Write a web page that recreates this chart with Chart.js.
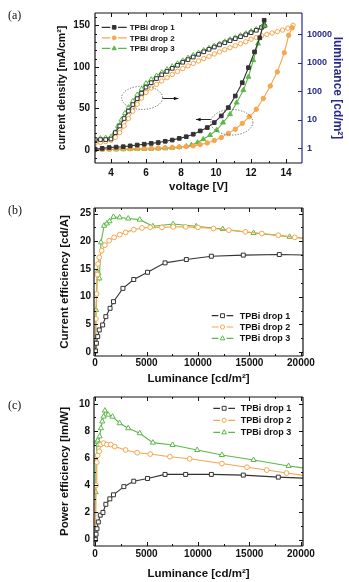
<!DOCTYPE html>
<html>
<head>
<meta charset="utf-8">
<script src="https://cdn.jsdelivr.net/npm/chart.js@4.4.1/dist/chart.umd.min.js"></script>
<style>
  html, body { margin: 0; padding: 0; background: #fff; }
  #page { position: relative; width: 349px; height: 582px; overflow: hidden; }
  .panel { position: absolute; left: 0; }
  .tag { position: absolute; left: 8px; font: 12px "Liberation Serif", "DejaVu Serif", serif; color: #111; }
</style>
</head>
<body>
<div id="page">
  <canvas id="chart-a" class="panel" width="349" height="195" style="top:0"></canvas>
  <canvas id="chart-b" class="panel" width="349" height="195" style="top:195px"></canvas>
  <canvas id="chart-c" class="panel" width="349" height="192" style="top:390px"></canvas>
  <div class="tag" style="top:8px">(a)</div>
  <div class="tag" style="top:203px">(b)</div>
  <div class="tag" style="top:398px">(c)</div>
</div>
<script>
// ── (a) J-V-L ──
const voltTicks = [4, 6, 8, 10, 12, 14];
const densTicks = [0, 50, 100, 150];
const lumTicksLog = [1, 10, 100, 1000, 10000];

// current density, filled markers
const vJ1 = [3.1, 3.5, 3.9, 4.3, 4.7, 5.1, 5.5, 5.9, 6.3, 6.7, 7.1, 7.5, 7.9, 8.3, 8.7, 9.1, 9.5, 9.9, 10.3, 10.7, 11.1, 11.5, 11.85, 12.2, 12.5, 12.75];
const jDrop1 = [1, 2, 3, 3.5, 4, 5, 6, 7, 8, 9, 10.5, 12, 14, 16, 19, 23, 27, 33, 41, 51, 65, 81, 99, 118, 135, 156];
const vJ2 = [3.1, 3.5, 3.9, 4.3, 4.7, 5.1, 5.5, 5.9, 6.3, 6.7, 7.1, 7.5, 7.9, 8.3, 8.7, 9.1, 9.5, 9.9, 10.3, 10.7, 11.1, 11.5, 11.9, 12.3, 12.7, 13.1, 13.5, 13.9, 14.15, 14.35];
const jDrop2 = [0.5, 0.8, 1, 1.2, 1.4, 1.6, 1.8, 2, 2.2, 2.5, 2.8, 3.2, 3.7, 4.3, 5, 6.5, 8.5, 11.5, 15, 20, 25, 32, 40, 49, 62, 77, 94, 117, 138, 147];
const vJ3 = [3.1, 3.5, 3.9, 4.3, 4.7, 5.1, 5.5, 5.9, 6.3, 6.7, 7.1, 7.5, 7.9, 8.3, 8.6, 8.95, 9.27, 9.66, 10.04, 10.4, 10.8, 11.18, 11.56, 11.85, 12.13, 12.4, 12.7];
const jDrop3 = [0.5, 0.6, 0.7, 0.8, 0.9, 1, 1.1, 1.2, 1.4, 1.7, 2, 2.6, 3.4, 4.5, 6, 9, 13, 18, 24, 33, 43, 57, 72, 88, 108, 128, 150];

// luminance, open markers
const vL1 = [3.1, 3.4, 3.7, 4.0, 4.25, 4.5, 4.75, 5.0, 5.25, 5.5, 5.75, 6.0, 6.3, 6.6, 6.9, 7.2, 7.5, 7.8, 8.1, 8.4, 8.7, 9.0, 9.3, 9.6, 9.9, 10.2, 10.5, 10.8, 11.1, 11.4, 11.7, 12.0, 12.3, 12.6, 12.75];
const lDrop1 = [2, 2, 2, 2.1, 3.5, 6, 11, 20, 34, 55, 85, 140, 200, 280, 380, 500, 640, 820, 1050, 1300, 1600, 2000, 2450, 3000, 3600, 4300, 5100, 6000, 7100, 8300, 9700, 11500, 14000, 17500, 20000];
const vL2 = [3.1, 3.4, 3.7, 4.0, 4.25, 4.5, 4.75, 5.0, 5.25, 5.5, 5.75, 6.0, 6.3, 6.6, 6.9, 7.2, 7.5, 7.8, 8.1, 8.4, 8.7, 9.0, 9.3, 9.6, 9.9, 10.2, 10.5, 10.8, 11.1, 11.4, 11.7, 12.0, 12.3, 12.6, 12.9, 13.2, 13.5, 13.8, 14.1, 14.4];
const lDrop2 = [1.5, 1.6, 1.7, 1.9, 2.4, 3.5, 6, 11, 20, 35, 58, 90, 130, 175, 230, 300, 390, 500, 630, 780, 960, 1170, 1420, 1700, 2050, 2450, 2900, 3400, 4000, 4700, 5500, 6800, 7800, 8900, 10000, 11200, 12600, 14300, 16500, 21000];
const vL3 = [3.1, 3.4, 3.7, 4.0, 4.2, 4.4, 4.6, 4.8, 5.0, 5.25, 5.5, 5.75, 6.0, 6.3, 6.6, 6.9, 7.2, 7.5, 7.8, 8.1, 8.4, 8.7, 9.0, 9.3, 9.6, 9.9, 10.2, 10.5, 10.8, 11.1, 11.4, 11.7, 12.0, 12.3, 12.6, 12.8];
const lDrop3 = [2, 2.2, 2.3, 2.5, 3.5, 6, 10, 17, 27, 45, 75, 120, 190, 260, 350, 460, 590, 750, 950, 1200, 1500, 1850, 2250, 2750, 3300, 3950, 4700, 5600, 6600, 7800, 9200, 10800, 12800, 15200, 18000, 20500];

// ── (b) current efficiency ──
const lumTicks = [0, 5000, 10000, 15000, 20000];
const ceTicks = [0, 5, 10, 15, 20, 25];
const lumB1 = [40, 130, 260, 410, 740, 1050, 1460, 1790, 2710, 3760, 5100, 6800, 8870, 11300, 14400, 17900, 21000];
const ceB1 = [0.2, 1.6, 2.8, 4.0, 4.9, 6.4, 7.9, 9.1, 11.5, 13.1, 14.4, 16.1, 16.7, 17.3, 17.5, 17.6, 17.5];
const lumB2 = [20, 80, 150, 220, 290, 410, 640, 960, 1370, 1850, 2400, 2970, 3760, 4560, 5360, 6500, 7600, 8800, 10000, 11500, 13000, 14600, 16200, 17800, 19400, 21000];
const ceB2 = [0.5, 6, 10.5, 14, 15.9, 17.1, 18.3, 19.3, 20.1, 20.7, 21.2, 21.6, 22.1, 22.4, 22.5, 22.5, 22.6, 22.6, 22.5, 22.3, 22.0, 21.7, 21.4, 21.1, 20.7, 20.4];
const lumB3 = [20, 100, 230, 330, 420, 580, 880, 1150, 1400, 1790, 2390, 3220, 4340, 5620, 7590, 9830, 12400, 15400, 18900, 21000];
const ceB3 = [0.5, 7.6, 14.5, 14.2, 13.3, 19.8, 22.8, 23.2, 23.6, 24.4, 24.3, 24.1, 23.9, 22.7, 23.1, 22.7, 22.2, 21.5, 20.8, 20.4];

// ── (c) power efficiency ──
const peTicks = [0, 2, 4, 6, 8, 10];
const lumC1 = [30, 100, 190, 320, 510, 770, 1050, 1435, 1790, 2800, 3760, 5100, 6800, 8800, 11300, 14400, 17800, 21000];
const peC1 = [0, 0.4, 0.8, 1.3, 1.8, 2.0, 2.6, 3.0, 3.3, 3.9, 4.3, 4.5, 4.8, 4.8, 4.8, 4.75, 4.6, 4.5];
const lumC2 = [20, 100, 170, 260, 410, 574, 830, 1150, 1530, 1910, 2970, 4090, 5360, 7270, 9190, 12320, 14760, 16680, 18600, 21000];
const peC2 = [0.3, 4.0, 5.7, 6.2, 6.5, 7.0, 7.1, 7.0, 7.0, 6.85, 6.6, 6.4, 6.3, 6.1, 5.95, 5.6, 5.33, 5.12, 4.9, 4.64];
const lumC3 = [20, 60, 100, 170, 260, 330, 450, 574, 700, 830, 960, 1270, 1700, 2390, 3220, 4340, 5620, 7530, 9920, 12320, 15400, 18800, 21000];
const peC3 = [0.3, 3.5, 5.8, 7.2, 7.3, 7.0, 7.6, 8.2, 8.7, 9.06, 9.5, 9.2, 9.05, 8.57, 8.2, 7.83, 7.14, 6.97, 6.6, 6.23, 5.86, 5.42, 5.2];

const FONT = '"Liberation Sans", Arial, sans-serif';
const INK = "#111";
const NAVY = "#262a8c";
const COL = { d1: "#333333", d2: "#f6a64c", d3: "#5cb848" };

Chart.defaults.color = INK;
Chart.defaults.font.family = FONT;

function pts(xs, ys) {
  return xs.map(function (x, i) { return { x: x, y: ys[i] }; });
}

function series(label, xs, ys, color, style, filled, axis, r) {
  return {
    label: label,
    data: pts(xs, ys),
    yAxisID: axis || "y",
    showLine: true,
    borderColor: color,
    borderWidth: 1.1,
    tension: 0,
    pointStyle: style,
    pointRadius: r || 2.4,
    pointBorderWidth: 1,
    pointBorderColor: color,
    pointBackgroundColor: filled ? color : "#fff",
    backgroundColor: filled ? color : "#fff",
  };
}

// force axis box sizes so the plot frames land where the figure has them
function fixSize(px) {
  return function (s) {
    if (s.isHorizontal()) s.height = px; else s.width = px;
    s.paddingTop = s.paddingBottom = s.paddingLeft = s.paddingRight = 0;
  };
}
function useTicks(values) {
  return function (s) { s.ticks = values.map(function (v) { return { value: v }; }); };
}
function bold(size) { return { family: FONT, size: size, weight: "bold" }; }

function marker(ctx, style, x, y, r, stroke, fill) {
  ctx.beginPath();
  if (style === "rect") {
    const h = r * 0.75;
    ctx.rect(x - h, y - h, 2 * h, 2 * h);
  } else if (style === "triangle") {
    ctx.moveTo(x, y - r);
    ctx.lineTo(x + r * 0.9, y + r * 0.6);
    ctx.lineTo(x - r * 0.9, y + r * 0.6);
    ctx.closePath();
  } else {
    ctx.arc(x, y, r * 0.8, 0, Math.PI * 2);
  }
  ctx.fillStyle = fill;
  ctx.fill();
  ctx.lineWidth = 1;
  ctx.strokeStyle = stroke;
  ctx.stroke();
}

// ── Plugins ──
const frame = {
  id: "frame",
  afterDatasetsDraw(chart, args, o) {
    const ctx = chart.ctx, a = chart.chartArea;
    ctx.save();
    ctx.lineWidth = 1;
    (o.axes || []).forEach(function (ax) {
      const s = chart.scales[ax.id];
      const majors = s.ticks.map(function (t) { return t.value; });
      const marks = majors.map(function (v) { return { v: v, len: 4 }; });
      if (ax.minor) {
        for (let v = Math.ceil(s.min / ax.minor) * ax.minor; v <= s.max; v += ax.minor) {
          if (!majors.some(function (m) { return Math.abs(m - v) < 1e-6; })) marks.push({ v: v, len: 2 });
        }
      }
      ctx.strokeStyle = ax.color || INK;
      marks.forEach(function (t) {
        const p = Math.round(s.getPixelForValue(t.v)) + 0.5;
        ax.sides.forEach(function (side) {
          ctx.beginPath();
          if (side === "bottom") { ctx.moveTo(p, a.bottom); ctx.lineTo(p, a.bottom - t.len); }
          if (side === "top") { ctx.moveTo(p, a.top); ctx.lineTo(p, a.top + t.len); }
          if (side === "left") { ctx.moveTo(a.left, p); ctx.lineTo(a.left + t.len, p); }
          if (side === "right") { ctx.moveTo(a.right, p); ctx.lineTo(a.right - t.len, p); }
          ctx.stroke();
        });
      });
    });
    // box
    const c = o.box || {};
    ctx.lineWidth = 1.2;
    [["top", a.left, a.top, a.right, a.top], ["bottom", a.left, a.bottom, a.right, a.bottom],
     ["left", a.left, a.top, a.left, a.bottom], ["right", a.right, a.top, a.right, a.bottom]].forEach(function (e) {
      ctx.strokeStyle = c[e[0]] || INK;
      ctx.beginPath(); ctx.moveTo(e[1], e[2]); ctx.lineTo(e[3], e[4]); ctx.stroke();
    });
    ctx.restore();
  },
};

const lineLegend = {
  id: "lineLegend",
  afterDraw(chart, args, o) {
    if (!o.rows) return;
    const ctx = chart.ctx, a = chart.chartArea;
    ctx.save();
    ctx.font = "bold " + o.size + "px " + FONT;
    ctx.textBaseline = "middle";
    o.rows.forEach(function (idx, i) {
      const ds = chart.data.datasets[idx];
      const y = a.top + o.y + i * o.gap;
      const x0 = a.left + o.x, x1 = x0 + o.len, xm = (x0 + x1) / 2;
      ctx.strokeStyle = ds.borderColor;
      ctx.lineWidth = 1.2;
      ctx.beginPath();
      ctx.moveTo(x0, y); ctx.lineTo(xm - o.r - 1.5, y);
      ctx.moveTo(xm + o.r + 1.5, y); ctx.lineTo(x1, y);
      ctx.stroke();
      marker(ctx, ds.pointStyle, xm, y, o.r, ds.borderColor, ds.pointBackgroundColor);
      ctx.fillStyle = INK;
      ctx.fillText(ds.label, x1 + o.textGap, y + 0.5);
    });
    ctx.restore();
  },
};

const callouts = {
  id: "callouts",
  afterDatasetsDraw(chart, args, o) {
    if (!o.ellipses) return;
    const ctx = chart.ctx, xs = chart.scales.x, ys = chart.scales.y;
    ctx.save();
    ctx.strokeStyle = "#555";
    ctx.lineWidth = 0.9;
    ctx.setLineDash([1.2, 1.6]);
    o.ellipses.forEach(function (e) {
      const cx = xs.getPixelForValue(e.x), cy = ys.getPixelForValue(e.y);
      const rx = Math.abs(xs.getPixelForValue(e.x + e.dx) - cx);
      const ry = Math.abs(ys.getPixelForValue(e.y + e.dy) - cy);
      ctx.beginPath();
      ctx.ellipse(cx, cy, rx, ry, 0, 0, Math.PI * 2);
      ctx.stroke();
    });
    ctx.setLineDash([]);
    ctx.strokeStyle = INK;
    ctx.fillStyle = INK;
    o.arrows.forEach(function (ar) {
      const x0 = xs.getPixelForValue(ar.from), x1 = xs.getPixelForValue(ar.to);
      const y = Math.round(ys.getPixelForValue(ar.y)) + 0.5;
      const d = Math.sign(x1 - x0);
      ctx.beginPath(); ctx.moveTo(x0, y); ctx.lineTo(x1, y); ctx.stroke();
      ctx.beginPath();
      ctx.moveTo(x1, y); ctx.lineTo(x1 - d * 4.5, y - 1.8); ctx.lineTo(x1 - d * 4.5, y + 1.8);
      ctx.closePath(); ctx.fill();
    });
    ctx.restore();
  },
};

const plugins = [frame, lineLegend, callouts];

function axisX(min, max, ticks, size, title, tickPad, titlePad) {
  return {
    type: "linear", min: min, max: max,
    afterFit: fixSize(size), afterBuildTicks: useTicks(ticks),
    grid: { display: false, drawTicks: false }, border: { display: false },
    ticks: { padding: tickPad, color: INK, font: bold(10), maxRotation: 0, callback: function (v) { return String(v); } },
    title: { display: true, text: title, color: INK, font: bold(11.5), padding: { top: 0, bottom: titlePad } },
  };
}
function axisY(min, max, ticks, size, title, titleSize, tickPad, titlePad) {
  return {
    type: "linear", position: "left", min: min, max: max,
    afterFit: fixSize(size), afterBuildTicks: useTicks(ticks),
    grid: { display: false, drawTicks: false }, border: { display: false },
    ticks: { padding: tickPad, color: INK, font: bold(10), callback: function (v) { return String(v); } },
    title: { display: true, text: title, color: INK, font: bold(titleSize), padding: { top: titlePad, bottom: 0 } },
  };
}

// ── Chart (a) ──
new Chart(document.getElementById("chart-a"), {
  type: "scatter",
  data: {
    datasets: [
      series("TPBi drop 1", vJ1, jDrop1, COL.d1, "rect", true, "y", 2.6),
      series("TPBi drop 2", vJ2, jDrop2, COL.d2, "circle", true, "y", 2.2),
      series("TPBi drop 3", vJ3, jDrop3, COL.d3, "triangle", true, "y", 2.8),
      series("drop 1 L", vL1, lDrop1, COL.d1, "rect", false, "y2", 2.6),
      series("drop 2 L", vL2, lDrop2, COL.d2, "circle", false, "y2", 2.2),
      series("drop 3 L", vL3, lDrop3, COL.d3, "triangle", false, "y2", 2.8),
    ],
  },
  options: {
    responsive: false, animation: false, devicePixelRatio: 1,
    layout: { padding: { top: 13, left: 0, right: 0, bottom: 0 } },
    scales: {
      x: axisX(3.09, 14.91, voltTicks, 32, "voltage [V]", 4, 1),
      y: axisY(-15.6, 164.8, densTicks, 95, "current density [mA/cm²]", 10.5, 5, 56),
      y2: {
        type: "logarithmic", position: "right", min: 0.325, max: 56700,
        afterFit: fixSize(47), afterBuildTicks: useTicks(lumTicksLog),
        grid: { display: false, drawTicks: false }, border: { display: false },
        ticks: { padding: 5, color: NAVY, font: bold(9), callback: function (v) { return String(v); } },
        title: { display: true, text: "luminance [cd/m²]", color: NAVY, font: bold(12), padding: { top: 4, bottom: 0 } },
      },
    },
    plugins: {
      legend: { display: false },
      tooltip: { enabled: false },
      frame: {
        axes: [
          { id: "x", sides: ["bottom", "top"], minor: 1 },
          { id: "y", sides: ["left"], minor: 10 },
          { id: "y2", sides: ["right"], color: NAVY },
        ],
        box: { right: NAVY },
      },
      lineLegend: { rows: [0, 1, 2], x: 6.7, y: 14.3, gap: 10.5, len: 25, r: 2.4, size: 8, textGap: 3 },
      callouts: {
        ellipses: [{ x: 5.78, y: 62.8, dx: 1.17, dy: 14 }, { x: 10.9, y: 33.4, dx: 1.2, dy: 15.4 }],
        arrows: [{ from: 6.95, to: 7.85, y: 63 }, { from: 9.7, to: 8.86, y: 36.8 }],
      },
    },
  },
  plugins: plugins,
});

// ── Chart (b) ──
new Chart(document.getElementById("chart-b"), {
  type: "scatter",
  data: {
    datasets: [
      series("TPBi drop 1", lumB1, ceB1, COL.d1, "rect", false, "y", 2.8),
      series("TPBi drop 2", lumB2, ceB2, COL.d2, "circle", false, "y", 2.4),
      series("TPBi drop 3", lumB3, ceB3, COL.d3, "triangle", false, "y", 3),
    ],
  },
  options: {
    responsive: false, animation: false, devicePixelRatio: 1,
    layout: { padding: { top: 13, left: 0, right: 46, bottom: 0 } },
    scales: {
      x: axisX(-100, 20200, lumTicks, 34, "Luminance [cd/m²]", 1, 4),
      y: axisY(-0.7, 26, ceTicks, 94, "Current efficiency [cd/A]", 11.5, 3, 58),
    },
    plugins: {
      legend: { display: false },
      tooltip: { enabled: false },
      frame: {
        axes: [
          { id: "x", sides: ["bottom", "top"], minor: 2500 },
          { id: "y", sides: ["left", "right"], minor: 2.5 },
        ],
      },
      lineLegend: { rows: [0, 1, 2], x: 117.7, y: 107.7, gap: 11.3, len: 21.6, r: 2.6, size: 9, textGap: 6.5 },
    },
  },
  plugins: plugins,
});

// ── Chart (c) ──
new Chart(document.getElementById("chart-c"), {
  type: "scatter",
  data: {
    datasets: [
      series("TPBi drop 1", lumC1, peC1, COL.d1, "rect", false, "y", 2.8),
      series("TPBi drop 2", lumC2, peC2, COL.d2, "circle", false, "y", 2.4),
      series("TPBi drop 3", lumC3, peC3, COL.d3, "triangle", false, "y", 3),
    ],
  },
  options: {
    responsive: false, animation: false, devicePixelRatio: 1,
    layout: { padding: { top: 7, left: 0, right: 46, bottom: 0 } },
    scales: {
      x: axisX(-100, 20200, lumTicks, 36, "Luminance [cd/m²]", 2, 1),
      y: axisY(-0.47, 10.5, peTicks, 94, "Power efficiency [lm/W]", 11.5, 4, 58),
    },
    plugins: {
      legend: { display: false },
      tooltip: { enabled: false },
      frame: {
        axes: [
          { id: "x", sides: ["bottom", "top"], minor: 2500 },
          { id: "y", sides: ["left", "right"], minor: 1 },
        ],
      },
      lineLegend: { rows: [0, 1, 2], x: 119.3, y: 11.3, gap: 12, len: 21.7, r: 2.6, size: 9, textGap: 5.7 },
    },
  },
  plugins: plugins,
});
</script>
</body>
</html>
